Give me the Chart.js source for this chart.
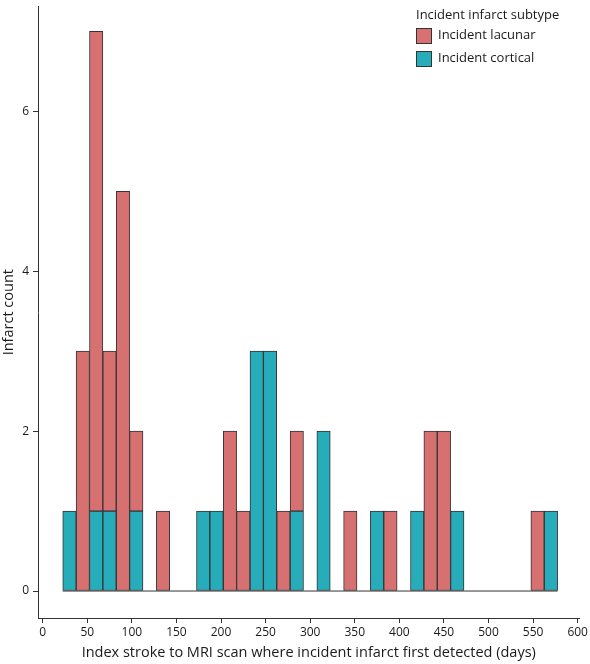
<!DOCTYPE html>
<html>
<head>
<meta charset="utf-8">
<script src="https://cdn.jsdelivr.net/npm/chart.js@4"></script>
<style>
  html, body { margin: 0; padding: 0; background: #fff; }
  #wrap { width: 590px; height: 664px; }
</style>
</head>
<body>
<div id="wrap"><canvas id="myChart" width="590" height="664"></canvas></div>
<script>
// histogram bins, 15 days wide, centres in days
var binCenters = [30, 45, 60, 75, 90, 105, 120, 135, 150, 165, 180, 195, 210, 225, 240, 255, 270, 285,
                  300, 315, 330, 345, 360, 375, 390, 405, 420, 435, 450, 465, 480, 495, 510, 525, 540, 555, 570];
var lacunarCounts = [0, 3, 6, 2, 5, 1, 0, 1, 0, 0, 0, 0, 2, 1, 0, 0, 1, 1,
                     0, 0, 0, 1, 0, 0, 1, 0, 0, 2, 2, 0, 0, 0, 0, 0, 0, 1, 0];
var corticalCounts = [1, 0, 1, 1, 0, 1, 0, 0, 0, 0, 1, 1, 0, 0, 3, 3, 0, 1,
                      0, 2, 0, 0, 0, 1, 0, 0, 1, 0, 0, 1, 0, 0, 0, 0, 0, 0, 1];
var binEdges = [22.5, 577.5];
var xTicks = [0, 50, 100, 150, 200, 250, 300, 350, 400, 450, 500, 550, 600];
var yTicks = [0, 2, 4, 6];

var legendTitle = "Incident infarct subtype";
var axisColor = "#333333";
var textColor = "#1a1a1a";
var redFill = "#D77070";
var tealFill = "#27ACBA";

function toPoints(values) {
    return binCenters.map((x, i) => ({ x: x, y: values[i] }));
}

// legend drawn in the top right of the panel
var legendBox = {
    id: "legendBox",
    afterDraw(chart) {
        var ctx = chart.ctx;
        var items = [chart.data.datasets[1], chart.data.datasets[0]];
        ctx.save();
        ctx.textBaseline = "middle";
        ctx.textAlign = "left";
        ctx.fillStyle = textColor;
        ctx.font = "13px 'Open Sans'";
        ctx.fillText(legendTitle, 416, 15);
        items.forEach((ds, i) => {
            var top = 28 + i * 23;
            ctx.fillStyle = ds.backgroundColor;
            ctx.fillRect(416, top, 15, 15);
            ctx.strokeStyle = axisColor;
            ctx.lineWidth = 1;
            ctx.strokeRect(416.5, top + 0.5, 15, 15);
            ctx.fillStyle = textColor;
            ctx.fillText(ds.label, 438, top + 7.5);
        });
        ctx.restore();
    }
};

var chart = new Chart(document.querySelector("#myChart").getContext("2d"), {
    type: "bar",
    data: {
        datasets: [{
            label: "Incident cortical",
            data: toPoints(corticalCounts),
            backgroundColor: tealFill,
            borderColor: axisColor,
            borderWidth: 1,
            borderSkipped: false,
            barPercentage: 1,
            categoryPercentage: 1,
            stack: "counts",
            order: 1
        }, {
            label: "Incident lacunar",
            data: toPoints(lacunarCounts),
            backgroundColor: redFill,
            borderColor: axisColor,
            borderWidth: 1,
            borderSkipped: false,
            barPercentage: 1,
            categoryPercentage: 1,
            stack: "counts",
            order: 1
        }, {
            type: "line",
            label: "baseline",
            data: binEdges.map(x => ({ x: x, y: 0 })),
            borderColor: axisColor,
            borderWidth: 1,
            pointRadius: 0,
            stack: "base",
            order: 5
        }]
    },
    options: {
        responsive: false,
        animation: false,
        layout: { padding: { top: 0, right: 7, left: 0, bottom: 0 } },
        plugins: { legend: { display: false }, tooltip: { enabled: false } },
        scales: {
            x: {
                type: "linear",
                min: -5.25,
                max: 602,
                offset: false,
                stacked: true,
                afterBuildTicks: s => { s.ticks = xTicks.map(v => ({ value: v })); },
                afterFit: s => { s.height = 46; },
                grid: { offset: false, drawOnChartArea: false, drawTicks: true, tickLength: 5, color: axisColor },
                border: { display: true, color: axisColor, width: 1 },
                ticks: { color: textColor, font: { family: "'Open Sans'", size: 12 }, padding: 2, maxRotation: 0 },
                title: {
                    display: true,
                    text: "Index stroke to MRI scan where incident infarct first detected (days)",
                    color: textColor,
                    font: { family: "'Open Sans'", size: 14.5 },
                    padding: { top: 1, bottom: 2 }
                }
            },
            y: {
                min: -0.3375,
                max: 7.3125,
                stacked: true,
                afterBuildTicks: s => { s.ticks = yTicks.map(v => ({ value: v })); },
                afterFit: s => { s.width = 38; },
                grid: { drawOnChartArea: false, drawTicks: true, tickLength: 5, color: axisColor },
                border: { display: true, color: axisColor, width: 1 },
                ticks: { color: textColor, font: { family: "'Open Sans'", size: 12, lineHeight: 0.4 }, padding: 4 },
                title: {
                    display: true,
                    text: "Infarct count",
                    color: textColor,
                    font: { family: "'Open Sans'", size: 14.5 },
                    padding: { top: 0, bottom: 0 }
                }
            }
        }
    },
    plugins: [legendBox]
});
</script>
</body>
</html>
